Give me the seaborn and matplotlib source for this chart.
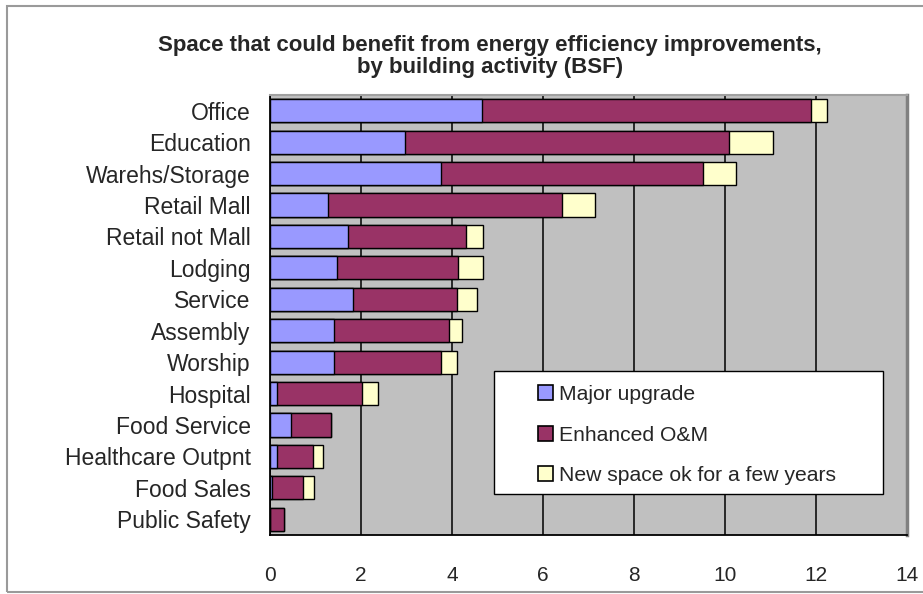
import numpy as np
import pandas as pd
import seaborn as sns
import matplotlib.pyplot as plt
from matplotlib.patches import Rectangle, Patch

# data (billion square feet)
activities = ["Office", "Education", "Warehs/Storage", "Retail Mall", "Retail not Mall",
              "Lodging", "Service", "Assembly", "Worship", "Hospital", "Food Service",
              "Healthcare Outpnt", "Food Sales", "Public Safety"]
major_upgrade = [4.65, 2.96, 3.75, 1.27, 1.71, 1.47, 1.82, 1.40, 1.40, 0.15, 0.46, 0.15, 0.04, 0.0]
enhanced_om = [7.25, 7.12, 5.77, 5.15, 2.59, 2.67, 2.28, 2.53, 2.35, 1.87, 0.88, 0.79, 0.68, 0.31]
new_space = [0.35, 0.97, 0.72, 0.73, 0.39, 0.55, 0.44, 0.30, 0.35, 0.35, 0.0, 0.22, 0.25, 0.0]
series_names = ["Major upgrade", "Enhanced O&M", "New space ok for a few years"]

BLUE = "#9999FF"
MAROON = "#993366"
CREAM = "#FFFFCC"
BG = "#C0C0C0"

sns.set_style("white")
plt.rcParams["font.family"] = ["Liberation Sans", "DejaVu Sans"]

df = pd.DataFrame({"activity": activities, "major": major_upgrade,
                   "om": enhanced_om, "new": new_space})
df["c1"] = df["major"]
df["c2"] = df["major"] + df["om"]
df["c3"] = df["c2"] + df["new"]

W, H = 923, 594
fig = plt.figure(figsize=(W / 100, H / 100), dpi=100)
ax = fig.add_axes([270 / W, 1 - 535 / H, (907 - 270) / W, (535 - 95) / H])
ax.set_facecolor(BG)

# stacked bars: draw the running totals, largest first
for col, colr in [("c3", CREAM), ("c2", MAROON), ("c1", BLUE)]:
    sns.barplot(data=df, x=col, y="activity", order=activities, orient="h",
                color=colr, saturation=1, errorbar=None, width=0.74,
                edgecolor="black", linewidth=1.0, ax=ax)

ax.set_xlim(0, 14)
ax.set_xticks(range(0, 15, 2))
ax.set_xlabel("")
ax.set_ylabel("")
ax.grid(axis="x", color="black", linewidth=1.1)
ax.set_axisbelow(True)

for s in ["left", "bottom"]:
    ax.spines[s].set_color("black")
    ax.spines[s].set_linewidth(1.3)
ax.spines["right"].set_color("#808080")
ax.spines["right"].set_linewidth(2.5)
ax.spines["top"].set_color("#A0A0A0")
ax.spines["top"].set_linewidth(1.5)

ax.tick_params(axis="x", length=4, width=1, color="black", pad=18, labelsize=15)
ax.tick_params(axis="y", length=0, pad=14, labelsize=16.5)

# title
fig.text(0.531, 1 - 45 / H, "Space that could benefit from energy efficiency improvements,",
         ha="center", va="center", fontsize=16, fontweight="bold")
fig.text(0.531, 1 - 68 / H, "by building activity (BSF)",
         ha="center", va="center", fontsize=16, fontweight="bold")

# legend box drawn by hand, entries placed inside it
fig.patches.append(Rectangle((494 / W, 1 - 494 / H), (883 - 494) / W, (494 - 371) / H,
                             transform=fig.transFigure, facecolor="white",
                             edgecolor="black", linewidth=1.0, zorder=5))
handles = [Patch(facecolor=c, edgecolor="black", linewidth=1.2) for c in (BLUE, MAROON, CREAM)]
leg = fig.legend(handles, series_names, loc="upper left",
                 bbox_to_anchor=(538 / W, 1 - 385 / H), bbox_transform=fig.transFigure,
                 frameon=False, fontsize=15.2, handlelength=0.7, handleheight=0.7,
                 handletextpad=0.3, labelspacing=1.02, borderpad=0, borderaxespad=0)
leg.set_zorder(6)

# outer chart border (open on the right, like the source)
fig.patches.append(Rectangle((7 / W, 2 / H), 1.05, 1 - 8 / H, transform=fig.transFigure,
                             fill=False, edgecolor="#9A9A9A", linewidth=1.5))

fig.savefig("out.png", dpi=100)
